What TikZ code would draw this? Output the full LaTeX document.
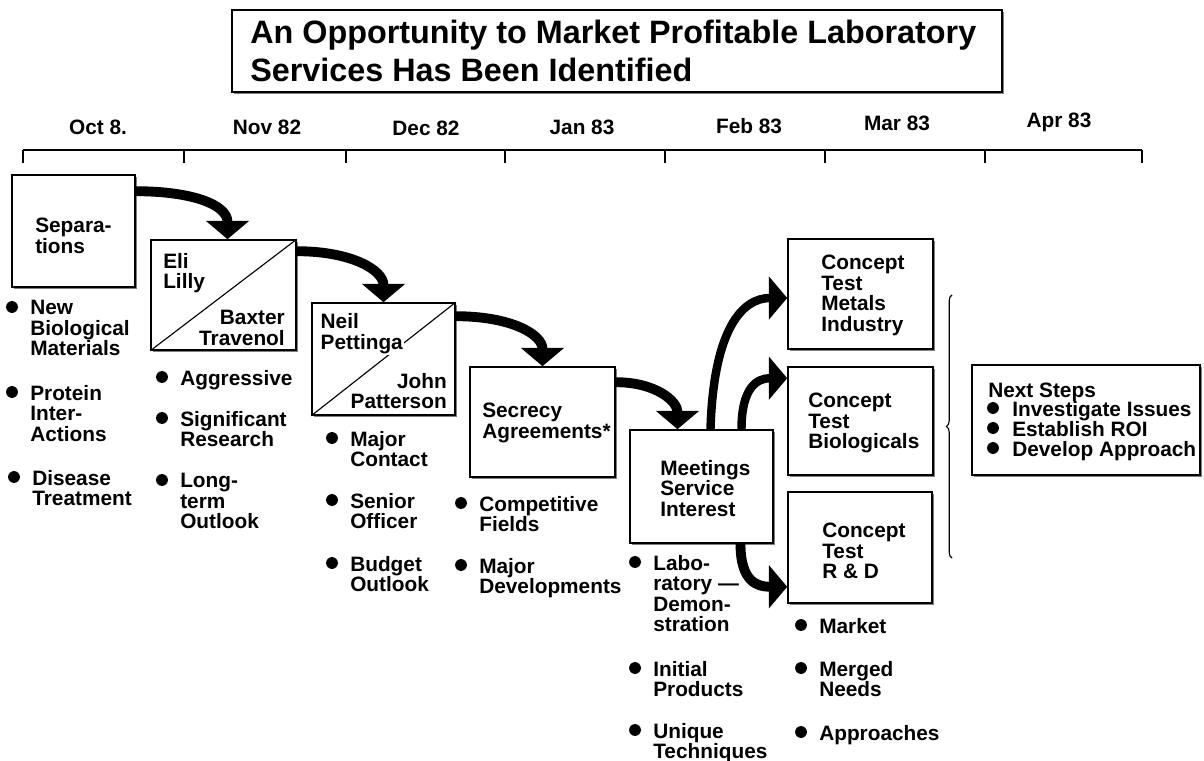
\documentclass[tikz,border=0pt]{standalone}
\usepackage{fontspec}
\setmainfont{Liberation Sans}
\usetikzlibrary{arrows.meta,calc,shadows,decorations.pathreplacing}

\newcommand{\dotat}[1]{\fill ($(#1.north west)+(-18,7)$) circle (4.2pt);}

\begin{document}
\begin{tikzpicture}[x=0.025cm, y=-0.025cm,
  box/.style={draw, line width=1.1pt, fill=white, inner sep=0pt,
    minimum width=3.625cm, minimum height=2.75cm,
    drop shadow={shadow xshift=1.5pt, shadow yshift=-1.5pt, opacity=1}},
  txt/.style={font=\bfseries\fontsize{14.8}{14.6}\selectfont, align=left, inner sep=0pt, anchor=north west},
  rtxt/.style={txt, align=right, anchor=north east},
  month/.style={font=\bfseries\fontsize{14.8}{14.6}\selectfont, inner sep=0pt},
  bigarrow/.style={line width=7pt, -{Triangle[width=30pt,length=13pt]}},
]
\useasboundingbox (0,0) rectangle (1204,761);

%title
\node[box, minimum width=19.25cm, minimum height=2.05cm] (ttlbox) at (617,51) {};
\node[txt, font=\bfseries\fontsize{23}{27}\selectfont] (ttl) at (250,20)
  {An Opportunity to Market Profitable Laboratory\\Services Has Been Identified};

%time line
\draw[line width=1.4pt] (23,150) -- (1142,150);
\foreach \x in {23,184,346,505,665,825,985,1142}
  \draw[line width=1.2pt] (\x,150) -- (\x,163);
\foreach \x/\y/\m [count=\i] in {98/127/Oct 8., 267/127/Nov 82, 426/128/Dec 82,
    582/127/Jan 83, 749/126/Feb 83, 897/123/Mar 83, 1059/122/Apr 83}
  \node[month] (mon\i) at (\x,\y) {\m};

%boxes
\node[box, minimum width=3.075cm, minimum height=2.8cm] (sep) at (73.5,231) {};
\node[box] (eli) at (223.5,295) {};
\node[box, minimum width=3.575cm, minimum height=2.8cm] (neil) at (383.5,359) {};
\node[box] (secr) at (542.5,422) {};
\node[box, minimum width=3.575cm, minimum height=2.825cm] (meet) at (701.5,486.5) {};
\node[box] (metal) at (860.5,294) {};
\node[box, minimum height=2.7cm] (bio) at (860.5,421) {};
\node[box, minimum width=3.6cm, minimum height=2.775cm] (rnd) at (860,547.5) {};
\node[box, minimum width=5.7cm] (next) at (1086,420) {};

\draw[line width=0.8pt] (eli.south west) -- (eli.north east);
\draw[line width=0.8pt] (neil.south west) -- (neil.north east);

%box texts
\node[txt] (septxt) at (35,218) {Separa-\\tions};
\node[txt] (elitxt) at (163,253) {Eli\\Lilly};
\node[rtxt] (baxtxt) at (285,310) {Baxter\\Travenol};
\node[txt, fill=white, inner sep=1pt] (neiltxt) at (319,312) {Neil\\Pettinga};
\node[rtxt] (johntxt) at (447,373) {John\\Patterson};
\node[txt] (secrtxt) at (482,403) {Secrecy\\Agreements*};
\node[txt] (meettxt) at (660,460) {Meetings\\Service\\Interest};
\node[txt] (metaltxt) at (821,255) {Concept\\Test\\Metals\\Industry};
\node[txt] (biotxt) at (808,393) {Concept\\Test\\Biologicals};
\node[txt] (rndtxt) at (822,523) {Concept\\Test\\R \& D};

%arrows
\draw[bigarrow] ($(sep.north east)+(0,17)$) .. controls +(55,0) and +(0,-35) .. ($(eli.north)+(4,0)$);
\draw[bigarrow] ($(eli.north east)+(0,12)$) .. controls +(55,0) and +(0,-32) .. (neil.north);
\draw[bigarrow] ($(neil.north east)+(0,14)$) .. controls +(55,0) and +(0,-32) .. (secr.north);
\draw[bigarrow] ($(secr.north east)+(0,16)$) .. controls +(40,0) and +(0,-28) .. ($(meet.north)+(-24,0)$);
\draw[bigarrow, line width=6pt] ($(meet.north)+(9,0)$) .. controls +(3,-100) and +(-45,0) .. ($(metal.west)+(0,4)$);
\draw[bigarrow, line width=6pt] ($(meet.north)+(40,0)$) .. controls +(0,-42) and +(-30,0) .. ($(bio.north west)+(0,12)$);
\draw[bigarrow] ($(meet.south)+(39,0)$) .. controls +(0,38) and +(-30,0) .. ($(rnd.south west)+(0,-17)$);

%brace
\draw[line width=0.8pt, decorate, decoration={brace, amplitude=4pt}] (952,558) -- (952,295);

%points
\node[txt] (p11) at (30,300) {New\\Biological\\Materials}; \dotat{p11}
\node[txt] (p12) at (30,385) {Protein\\Inter-\\Actions}; \dotat{p12}
\node[txt] (p13) at (32,470) {Disease\\Treatment}; \dotat{p13}

\node[txt] (p21) at (180,370) {Aggressive}; \dotat{p21}
\node[txt] (p22) at (180,411) {Significant\\Research}; \dotat{p22}
\node[txt] (p23) at (180,473) {Long-\\term\\Outlook}; \dotat{p23}

\node[txt] (p31) at (350,431) {Major\\Contact}; \dotat{p31}
\node[txt] (p32) at (350,493) {Senior\\Officer}; \dotat{p32}
\node[txt] (p33) at (350,556) {Budget\\Outlook}; \dotat{p33}

\node[txt] (p41) at (479,496) {Competitive\\Fields}; \dotat{p41}
\node[txt] (p42) at (479,558) {Major\\Developments}; \dotat{p42}

\node[txt] (p51) at (653,555) {Labo-\\ratory —\\Demon-\\stration}; \dotat{p51}
\node[txt] (p52) at (653,661) {Initial\\Products}; \dotat{p52}
\node[txt] (p53) at (653,723) {Unique\\Techniques}; \dotat{p53}

\node[txt] (p61) at (819,618) {Market}; \dotat{p61}
\node[txt] (p62) at (819,661) {Merged\\Needs}; \dotat{p62}
\node[txt] (p63) at (819,725) {Approaches}; \dotat{p63}

%next steps
\node[txt] (nexthd) at (988,383) {Next Steps};
\node[txt, font=\bfseries\fontsize{14.8}{14.2}\selectfont] (nextpts) at (1012,401)
  {Investigate Issues\\Establish ROI\\Develop Approach};
\foreach \k in {0,20,40}
  \fill ($(nextpts.north west)+(-19,7+\k)$) circle (4.2pt);
\end{tikzpicture}
\end{document}
